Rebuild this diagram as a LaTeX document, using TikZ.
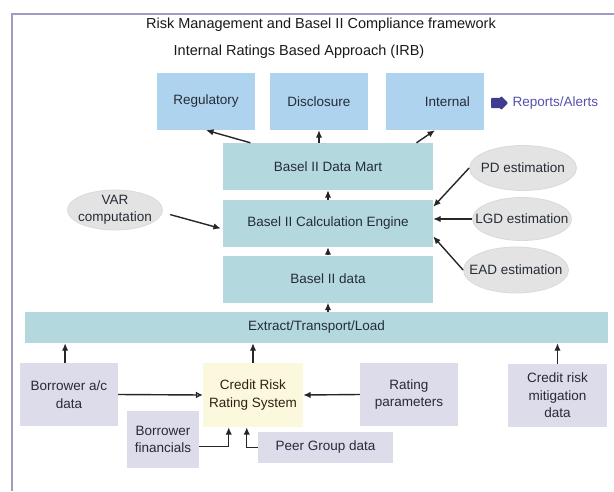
\documentclass[tikz,border=0pt]{standalone}
\usepackage{fontspec}
\setmainfont{Liberation Sans}
\usetikzlibrary{positioning,shapes.geometric,shapes.arrows,arrows.meta}

\definecolor{framecol}{HTML}{9C9CC4}
\definecolor{topblue}{HTML}{AED3EF}
\definecolor{midteal}{HTML}{B3D9DF}
\definecolor{srcgray}{HTML}{DCDCEA}
\definecolor{crrsyellow}{HTML}{FCF8DE}
\definecolor{ovalgray}{HTML}{E3E3E3}
\definecolor{txtdark}{HTML}{262C36}
\definecolor{rptblue}{HTML}{5452AC}
\definecolor{rptdark}{HTML}{3E3C8E}

\tikzset{
  base/.style={font=\fontsize{13.5}{17.5}\selectfont, text=txtdark, align=center, inner sep=0pt},
  titletext/.style={base, font=\fontsize{14.5}{17}\selectfont, text=black!90},
  topbox/.style={base, fill=topblue, minimum width=98, minimum height=57},
  midbox/.style={base, fill=midteal, minimum width=210, minimum height=47},
  srcbox/.style={base, fill=srcgray, minimum width=98, minimum height=63},
  crrsbox/.style={base, fill=crrsyellow, text=black!75!brown, minimum width=100, minimum height=64},
  oval/.style={base, ellipse, fill=ovalgray, draw=black!15, line width=0.8},
  arr/.style={-{Latex[length=7.5pt,width=6.5pt]}, line width=1.4, draw=black!85},
  arropen/.style={-{Latex[open,length=7pt,width=7pt]}, line width=1.4, draw=black!85}
}

\begin{document}
\begin{tikzpicture}[x=1pt,y=-1pt]
    \useasboundingbox (0,0) rectangle (614,491);

    % Marco
    \draw[framecol, line width=2] (12,491) |- (614,14);

    % Titulos
    \node[titletext] (title) at (321,25) {Risk Management and Basel II Compliance framework};
    \node[titletext] (subtitle) at (299,52) {Internal Ratings Based Approach (IRB)};

    % Informes
    \node[topbox] (reg) at (206,101.5) {Regulatory};
    \node[topbox] (disc) at (319,101.5) {Disclosure};
    \node[topbox, text width=70, align=right] (intl) at (435,101.5) {Internal};
    \node[single arrow, fill=rptdark, minimum height=17, inner xsep=0pt, inner ysep=5pt,
          single arrow head extend=2pt, rounded corners=1pt] (rptarrow) at (497,103) {};
    \node[base, right=4 of rptarrow, text=rptblue] (rpt) {Reports/Alerts};

    % Capas de datos
    \node[midbox] (mart) at (328,166.5) {Basel II Data Mart};
    \node[midbox] (calc) at (328,223.5) {Basel II Calculation Engine};
    \node[midbox] (bdata) at (328,279) {Basel II data};
    \node[midbox, minimum width=583, minimum height=31] (etl) at (316.5,327.5) {Extract/Transport/Load};

    % Estimaciones
    \node[oval, minimum width=107, minimum height=45] (pd) at (523,168) {\makebox[0pt]{PD estimation}};
    \node[oval, minimum width=99, minimum height=43] (lgd) at (522,219) {\makebox[0pt]{LGD estimation}};
    \node[oval, minimum width=105, minimum height=46] (ead) at (516,270) {\makebox[0pt]{EAD estimation}};
    \node[oval, minimum width=95, minimum height=40, inner ysep=-4pt] (var) at (115,210)
        {\makebox[0pt]{VAR}\\\makebox[0pt]{computation}};

    % Fuentes
    \node[srcbox] (bac) at (69,394.5) {Borrower a/c\\data};
    \node[crrsbox] (crrs) at (253,395) {Credit Risk\\Rating System};
    \node[srcbox] (rate) at (409,394.5) {Rating\\parameters};
    \node[srcbox, minimum width=99] (crm) at (557.5,395.5) {Credit risk\\mitigation\\data};
    \node[srcbox, minimum width=72, minimum height=57] (bfin) at (163,439.5) {Borrower\\financials};
    \node[srcbox, minimum width=135, minimum height=31] (peer) at (325.5,447.5) {Peer Group data};

    % Flechas
    \draw[arr] (mart.163) -- (reg.south);
    \draw[arr] (mart.north -| disc.south) -- (disc.south);
    \draw[arr] (mart.15) -- (intl.south);
    \draw[arr] (calc.north) -- (mart.south);
    \draw[arr] (bdata.north) -- (calc.south);
    \draw[arr] (etl.north -| bdata.south) -- (bdata.south);
    \draw[arr] (pd.west) -- (calc.9);
    \draw[arr] (lgd.west) -- (lgd.west -| calc.east);
    \draw[arr] (ead.west) -- (calc.-7);
    \draw[arr, shorten <=8pt, shorten >=2pt] (var.-3) -- (calc.183);
    \draw[arr] (bac.97) -- (bac.97 |- etl.south);
    \draw[arr] (crrs.north) -- (crrs.north |- etl.south);
    \draw[arr] (crm.north) -- (crm.north |- etl.south);
    \draw[arropen] (bac.east) -- (crrs.west);
    \draw[arr] (rate.west) -- (crrs.east);
    \draw[arr] (bfin.-11) -| (crrs.233);
    \draw[arr] (peer.west) -| (crrs.259);
\end{tikzpicture}
\end{document}
